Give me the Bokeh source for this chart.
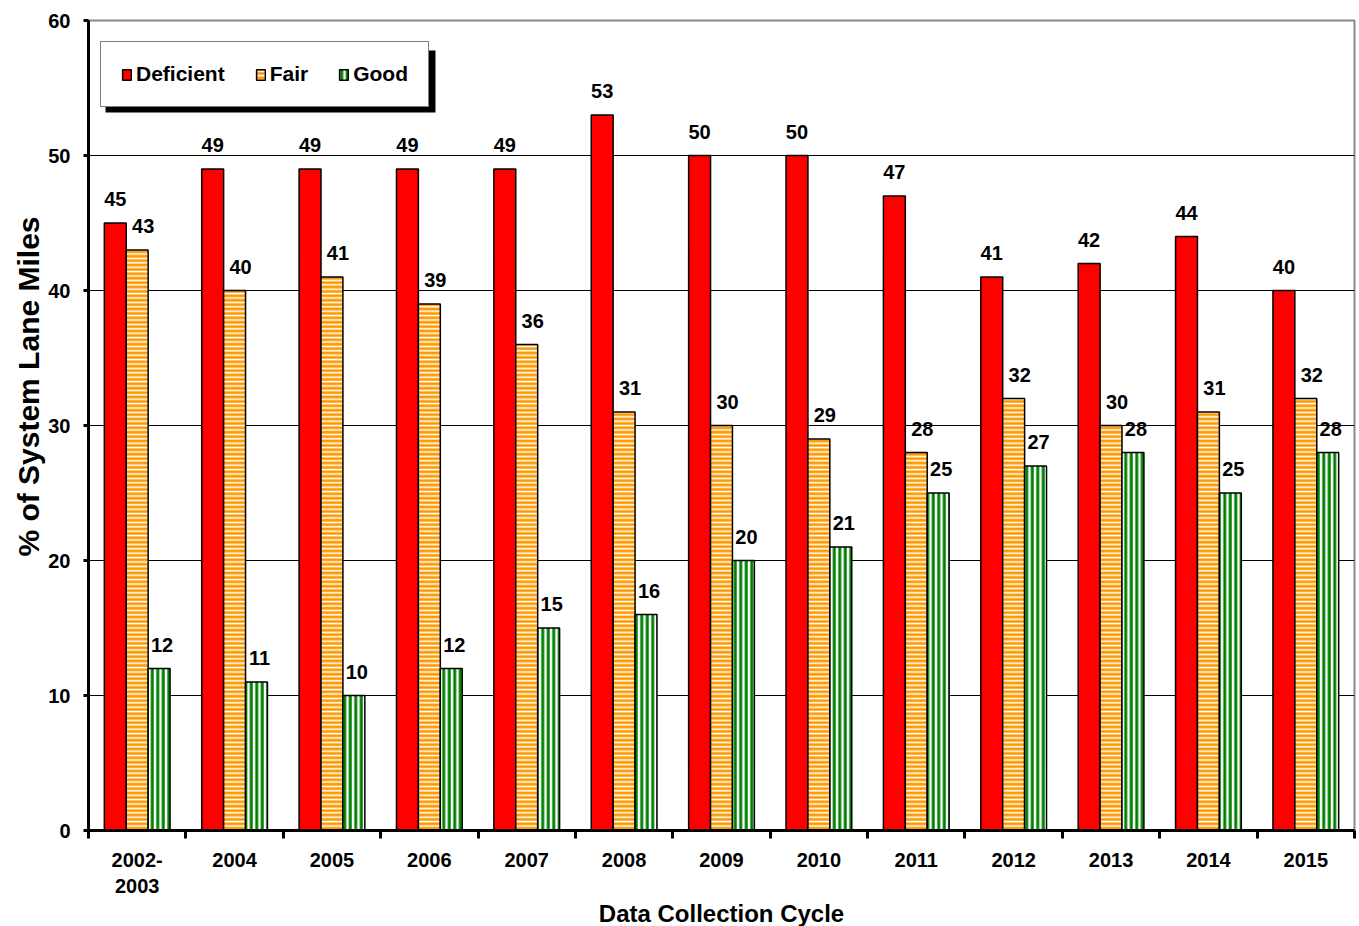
from bokeh.plotting import figure
from bokeh.models import (ColumnDataSource, FixedTicker, Legend, LegendItem,
                          BoxAnnotation, Range1d, LabelSet, Title)
from bokeh.core.properties import value
from bokeh.embed import file_html
from bokeh.resources import INLINE

categories = ["2002-\n2003", "2004", "2005", "2006", "2007", "2008", "2009",
              "2010", "2011", "2012", "2013", "2014", "2015"]
deficient = [45, 49, 49, 49, 49, 53, 50, 50, 47, 41, 42, 44, 40]
fair = [43, 40, 41, 39, 36, 31, 30, 29, 28, 32, 30, 31, 32]
good = [12, 11, 10, 12, 15, 16, 20, 21, 25, 27, 28, 25, 28]
y_ticks = [0, 10, 20, 30, 40, 50, 60]

FONT = "Liberation Sans"

n = len(categories)
centers = [i + 0.5 for i in range(n)]
off = 0.225
w = 0.225

src = ColumnDataSource(dict(
    xd=[c - off for c in centers], xf=[c for c in centers], xg=[c + off for c in centers],
    d=deficient, f=fair, g=good,
    dl=[str(v) for v in deficient], fl=[str(v) for v in fair], gl=[str(v) for v in good],
))

p = figure(width=1359, height=926, output_backend="svg", toolbar_location=None,
           x_range=Range1d(0, n), y_range=Range1d(0, 60),
           frame_width=1266, frame_height=810,
           min_border_left=88, min_border_top=20, min_border_right=5, min_border_bottom=96)
p.background_fill_color = "white"
p.outline_line_color = "#888888"
p.outline_line_width = 2

rd = p.vbar(x="xd", top="d", width=w, source=src, fill_color="#FF0000",
            line_color="black", line_width=1.5)
rf = p.vbar(x="xf", top="f", width=w, source=src, fill_color="#FF9900",
            line_color="black", line_width=1.5,
            hatch_pattern="horizontal_line", hatch_color="white",
            hatch_scale=4.4, hatch_weight=1.6)
rg = p.vbar(x="xg", top="g", width=w, source=src, fill_color="white",
            line_color="black", line_width=1.5,
            hatch_pattern="vertical_line", hatch_color="#008000",
            hatch_scale=5.5, hatch_weight=3)

for xcol, ycol, lcol, xo in [("xd", "d", "dl", 0), ("xf", "f", "fl", 6), ("xg", "g", "gl", 3)]:
    ls = LabelSet(x=xcol, y=ycol, text=lcol, source=src, text_align="center",
                  text_baseline="bottom", y_offset=17, x_offset=xo,
                  text_font=value(FONT), text_font_style="bold",
                  text_font_size="20px", text_color="black")
    p.add_layout(ls)

# axes
p.yaxis.ticker = FixedTicker(ticks=y_ticks)
p.yaxis.axis_line_width = 3
p.yaxis.axis_line_color = "black"
p.yaxis.major_tick_line_width = 3
p.yaxis.major_tick_out = 5
p.yaxis.major_tick_in = 0
p.yaxis.minor_tick_line_color = None
p.yaxis.major_label_text_font = FONT
p.yaxis.major_label_text_font_style = "bold"
p.yaxis.major_label_text_font_size = "20px"
p.yaxis.major_label_text_color = "black"
p.yaxis.major_label_standoff = 13

ytitle = Title(text="% of System Lane Miles", align="right", offset=196,
               text_font=FONT, text_font_style="bold", text_font_size="30px",
               text_color="black", standoff=2)
p.add_layout(ytitle, "left")

p.xaxis.ticker = FixedTicker(ticks=centers, minor_ticks=list(range(n + 1)))
p.xaxis.major_label_overrides = {c: lab for c, lab in zip(centers, categories)}
p.xaxis.axis_line_width = 3
p.xaxis.axis_line_color = "black"
p.xaxis.major_tick_line_color = None
p.xaxis.major_tick_out = 8
p.xaxis.minor_tick_line_width = 3
p.xaxis.minor_tick_line_color = "black"
p.xaxis.minor_tick_out = 8
p.xaxis.minor_tick_in = 0
p.xaxis.major_label_text_font = FONT
p.xaxis.major_label_text_font_style = "bold"
p.xaxis.major_label_text_font_size = "20px"
p.xaxis.major_label_text_color = "black"
p.xaxis.major_label_standoff = 10
p.xaxis.axis_label = "Data Collection Cycle"
p.xaxis.axis_label_text_font = FONT
p.xaxis.axis_label_text_font_style = "bold"
p.xaxis.axis_label_text_font_size = "24px"
p.xaxis.axis_label_text_color = "black"
p.xaxis.axis_label_standoff = 0

p.xgrid.grid_line_color = None
p.ygrid.ticker = FixedTicker(ticks=[10, 20, 30, 40, 50])
p.ygrid.grid_line_color = "black"
p.ygrid.grid_line_width = 1

# legend shadow
shadow = BoxAnnotation(left=0.175, right=3.563, top=57.78, bottom=53.19,
                       fill_color="black", fill_alpha=1.0, line_color=None)
p.add_layout(shadow)

legend = Legend(items=[LegendItem(label="Deficient", renderers=[rd]),
                       LegendItem(label="Fair", renderers=[rf]),
                       LegendItem(label="Good", renderers=[rg])],
                location=(12, 723), orientation="horizontal",
                margin=0, padding=20, spacing=30,
                glyph_width=11, glyph_height=13, label_standoff=4,
                label_text_font=FONT, label_text_font_style="bold",
                label_text_font_size="21px", label_text_color="black",
                border_line_color="black", border_line_width=1,
                background_fill_color="white", background_fill_alpha=1.0)
p.add_layout(legend)

open("out.html", "w").write(file_html(p, INLINE))
